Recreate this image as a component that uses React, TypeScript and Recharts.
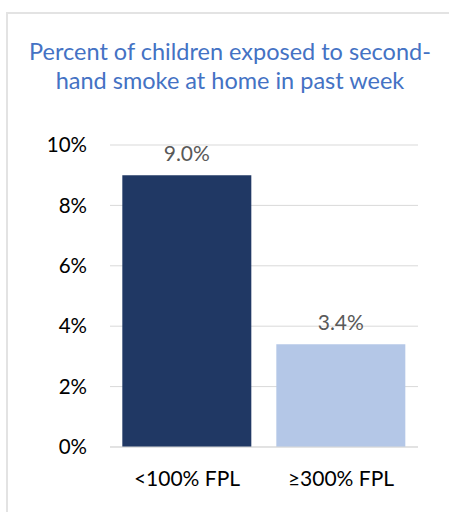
import React from "react";
import { BarChart, Bar, XAxis, YAxis, CartesianGrid, LabelList, Cell } from "recharts";

const categories = ["<100% FPL", "≥300% FPL"];
const percents = [9.0, 3.4];
const barColors = ["#203864", "#B4C7E7"];
const yTicks = [0, 2, 4, 6, 8, 10];
const titleLines = ["Percent of children exposed to second-", "hand smoke at home in past week"];

const data = categories.map((name, i) => ({ name, value: percents[i] }));

const FONT = "Lato, 'Liberation Sans', sans-serif";

export default function App() {
  return (
    <div style={{ position: "absolute", left: 0, top: 0, width: 449, height: 512, background: "#fff", overflow: "hidden" }}>
      <div
        style={{
          position: "absolute",
          left: 6,
          top: 12,
          width: 460,
          height: 520,
          border: "2px solid #E3E3E3",
          boxSizing: "border-box",
        }}
      />
      <div
        style={{
          position: "absolute",
          left: 0,
          top: 37,
          width: 460,
          textAlign: "center",
          fontFamily: FONT,
          fontSize: 23.5,
          lineHeight: "29px",
          color: "#4472C4",
        }}
      >
        {titleLines.map((t) => (
          <div key={t}>{t}</div>
        ))}
      </div>
      <div style={{ position: "absolute", left: 0, top: 0 }}>
        <BarChart
          width={449}
          height={512}
          data={data}
          margin={{ top: 145, right: 31, bottom: 0, left: 0 }}
          barCategoryGap="8%"
        >
          <CartesianGrid vertical={false} stroke="#D9D9D9" strokeWidth={1} />
          <XAxis
            dataKey="name"
            height={65}
            tickLine={false}
            axisLine={{ stroke: "#D9D9D9", strokeWidth: 1 }}
            tickMargin={18}
            tick={{ fill: "#000", fontSize: 21, fontFamily: FONT }}
          />
          <YAxis
            width={110}
            domain={[0, 10]}
            ticks={yTicks}
            interval={0}
            tickFormatter={(v: number) => `${v}%`}
            tickLine={false}
            axisLine={false}
            tickMargin={17}
            tick={{ fill: "#000", fontSize: 20.5, fontFamily: FONT }}
          />
          <Bar dataKey="value" isAnimationActive={false}>
            {data.map((d, i) => (
              <Cell key={d.name} fill={barColors[i]} />
            ))}
            <LabelList
              dataKey="value"
              position="top"
              offset={14}
              formatter={(v: number) => `${v.toFixed(1)}%`}
              style={{ fill: "#595959", fontSize: 21, fontFamily: FONT }}
            />
          </Bar>
        </BarChart>
      </div>
    </div>
  );
}
